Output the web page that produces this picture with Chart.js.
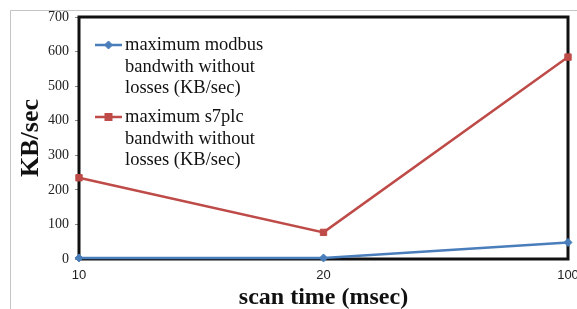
<!DOCTYPE html>
<html>
<head>
<meta charset="utf-8">
<script src="https://cdn.jsdelivr.net/npm/chart.js@4.4.0/dist/chart.umd.min.js"></script>
<style>
html,body{margin:0;padding:0;background:#fff;}
#wrap{width:577px;height:309px;position:relative;}
</style>
</head>
<body>
<div id="wrap"><canvas id="c" width="577" height="309"></canvas></div>
<script>
const categories = ["10", "20", "100"];
const modbusValues = [3, 3, 48];
const s7plcValues = [235, 77, 584];
const modbusLegend = ["maximum modbus", "bandwith without", "losses (KB/sec)"];
const s7plcLegend = ["maximum s7plc", "bandwith without", "losses (KB/sec)"];
const yTicks = [0, 100, 200, 300, 400, 500, 600, 700];
const xTitle = "scan time (msec)";
const yTitle = "KB/sec";

const BLUE = "#4A7EBB";
const RED = "#BE4B48";
const legendLines = [modbusLegend, s7plcLegend];

const framePlugin = {
  id: "frames",
  beforeDraw(chart) {
    const ctx = chart.ctx;
    ctx.save();
    ctx.strokeStyle = "#c4c4c4";
    ctx.lineWidth = 1;
    ctx.beginPath();
    ctx.moveTo(10.5, 309);
    ctx.lineTo(10.5, 10.5);
    ctx.lineTo(577, 10.5);
    ctx.stroke();
    ctx.restore();
  },
  beforeDatasetsDraw(chart) {
    const ctx = chart.ctx;
    const a = chart.chartArea;
    ctx.save();
    ctx.strokeStyle = "#111";
    ctx.lineWidth = 3;
    ctx.strokeRect(a.left, a.top, a.right - a.left, a.bottom - a.top);
    ctx.restore();
  },
  afterDraw(chart) {
    const ctx = chart.ctx;
    const a = chart.chartArea;
    ctx.save();
    const x0 = a.left + 16, x1 = a.left + 43, tx = a.left + 46;
    const startY = [a.top + 28, a.top + 100];
    const lh = 21.7;
    chart.data.datasets.forEach((ds, i) => {
      const y = startY[i];
      ctx.strokeStyle = ds.borderColor;
      ctx.lineWidth = 2.5;
      ctx.beginPath();
      ctx.moveTo(x0, y);
      ctx.lineTo(x1, y);
      ctx.stroke();
      const mx = (x0 + x1) / 2;
      ctx.fillStyle = ds.backgroundColor;
      ctx.strokeStyle = ds.borderColor;
      ctx.lineWidth = 1;
      if (ds.pointStyle === "rect") {
        ctx.fillRect(mx - 3.5, y - 3.5, 7, 7);
        ctx.strokeRect(mx - 3.5, y - 3.5, 7, 7);
      } else {
        ctx.beginPath();
        ctx.moveTo(mx, y - 4);
        ctx.lineTo(mx + 4, y);
        ctx.lineTo(mx, y + 4);
        ctx.lineTo(mx - 4, y);
        ctx.closePath();
        ctx.fill();
        ctx.stroke();
      }
      ctx.fillStyle = "#111";
      ctx.font = "18.5px 'Liberation Serif', 'Times New Roman', serif";
      ctx.textBaseline = "middle";
      ctx.textAlign = "left";
      legendLines[i].forEach((t, j) => ctx.fillText(t, tx, y + j * lh));
    });
    ctx.restore();
  }
};

new Chart(document.getElementById("c"), {
  type: "line",
  data: {
    labels: categories,
    datasets: [
      {
        label: modbusLegend.join(" "),
        data: modbusValues,
        borderColor: BLUE,
        backgroundColor: BLUE,
        borderWidth: 2.5,
        pointStyle: "rectRot",
        pointRadius: 4,
        pointBorderWidth: 1,
        tension: 0,
        clip: false
      },
      {
        label: s7plcLegend.join(" "),
        data: s7plcValues,
        borderColor: RED,
        backgroundColor: RED,
        borderWidth: 2.5,
        pointStyle: "rect",
        pointRadius: 4.5,
        pointBorderWidth: 1,
        tension: 0,
        clip: false
      }
    ]
  },
  options: {
    responsive: false,
    animation: false,
    devicePixelRatio: 1,
    layout: { padding: { left: 0, top: 17, right: 9, bottom: 0 } },
    plugins: { legend: { display: false }, tooltip: { enabled: false } },
    scales: {
      x: {
        offset: false,
        grid: { display: false, drawTicks: false },
        border: { display: false },
        ticks: {
          color: "#222",
          padding: 9,
          maxRotation: 0,
          autoSkip: false,
          font: { family: "'Liberation Sans', Arial, sans-serif", size: 13 }
        },
        title: {
          display: true,
          text: xTitle,
          color: "#111",
          font: { family: "'Liberation Serif', 'Times New Roman', serif", size: 24, weight: "bold", lineHeight: 1 },
          padding: { top: 0, bottom: -1 }
        },
        afterFit(scale) {
          scale.height = 50;
          scale.paddingLeft = 0;
          scale.paddingRight = 0;
        }
      },
      y: {
        min: 0,
        max: 700,
        afterBuildTicks(scale) { scale.ticks = yTicks.map(v => ({ value: v })); },
        grid: { display: true, drawOnChartArea: false, drawTicks: true, tickLength: 4, color: "#888", tickColor: "#888" },
        border: { display: false },
        ticks: {
          color: "#222",
          padding: 6,
          font: { family: "'Liberation Serif', 'Times New Roman', serif", size: 14 }
        },
        title: {
          display: true,
          text: yTitle,
          color: "#111",
          font: { family: "'Liberation Serif', 'Times New Roman', serif", size: 26, weight: "bold", lineHeight: 1 },
          padding: { top: 18, bottom: 0 }
        },
        afterFit(scale) {
          scale.width = 79;
          scale.paddingTop = 0;
          scale.paddingBottom = 0;
        }
      }
    }
  },
  plugins: [framePlugin]
});
</script>
</body>
</html>
